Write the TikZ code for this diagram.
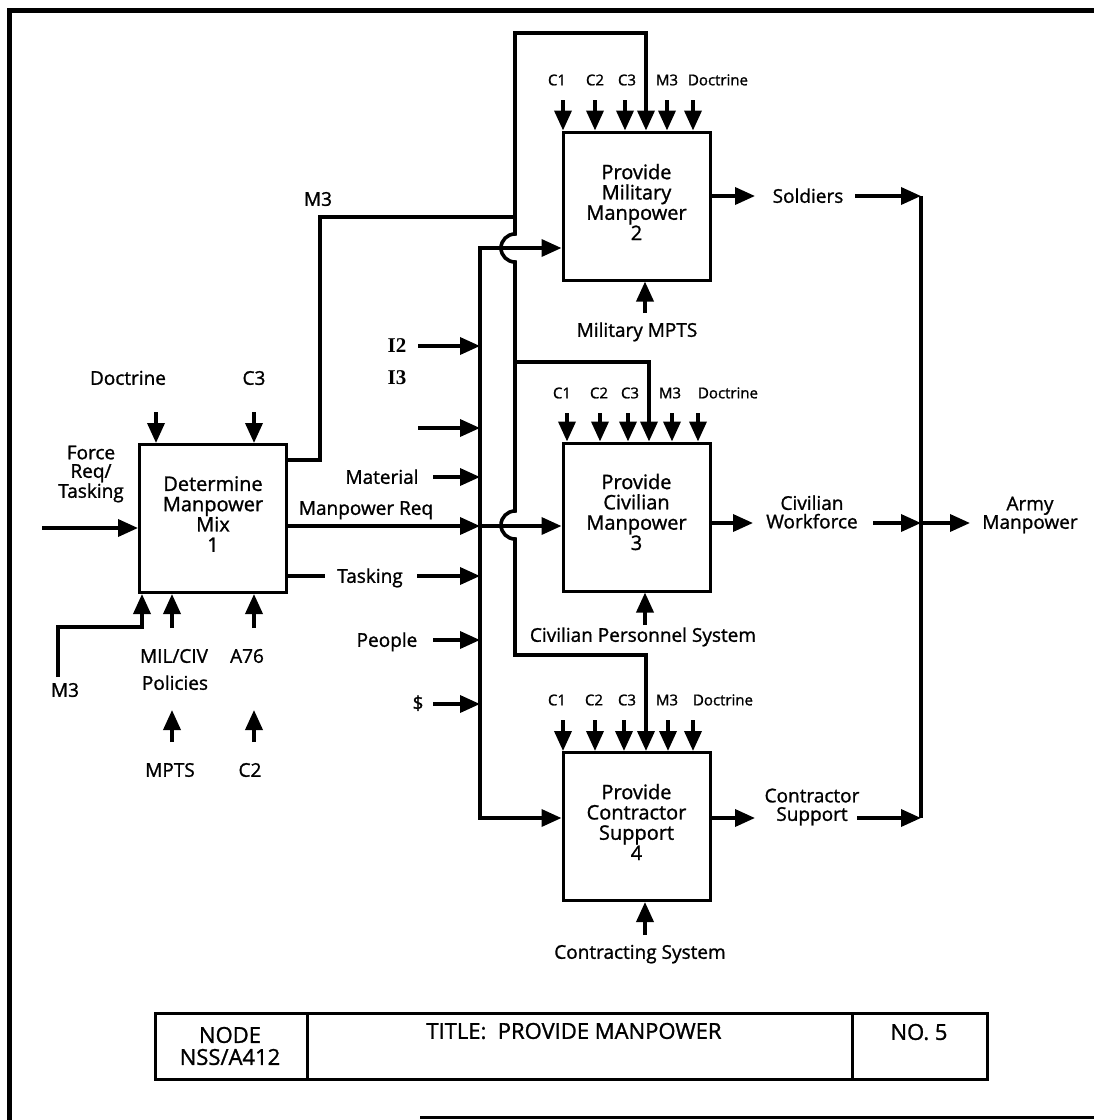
\documentclass[tikz,border=0pt]{standalone}
\usepackage{fontspec}
\setmainfont{Open Sans}[FakeBold=1.2]
\newfontfamily\serifb{Liberation Serif}
\usetikzlibrary{arrows.meta,calc}
\begin{document}
\begin{tikzpicture}[x=1pt,y=-1pt,
  box/.style={draw,line width=3pt,minimum width=147pt,minimum height=148pt,inner sep=0pt},
  btxt/.style={font=\fontsize{20}{20.3}\selectfont,align=center,inner sep=0pt},
  lbl/.style={font=\fontsize{19}{18.5}\selectfont,align=center,inner sep=0pt},
  sl/.style={text height=13.6pt,text depth=0pt},
  ctl/.style={font=\fontsize{15}{15}\selectfont,inner sep=0pt,text height=10.7pt,text depth=0pt},
  ilbl/.style={font=\serifb\bfseries\fontsize{21}{21}\selectfont,inner sep=0pt,text height=14pt,text depth=0pt},
  ttl/.style={font=\fontsize{22}{22}\selectfont,align=center,inner sep=0pt},
  wire/.style={line width=3.6pt},
  arr/.style={line width=3.6pt,-{Triangle[length=20pt,width=17pt]}},
  frame/.style={line width=5pt},
]
\useasboundingbox (0,0) rectangle (1094,1120);

% outer frame
\draw[frame] (9,1120) -- (9,10) -- (1094,10);
\draw[line width=3pt] (420,1117) -- (1094,1117);

% activity boxes
\node[box] (b1) at (213,518.5) {};
\node[btxt] (t1) at (213,514) {Determine\\Manpower\\Mix\\1};
\node[box] (b2) at (636.5,206) {};
\node[btxt] (t2) at (636.5,202) {Provide\\Military\\Manpower\\2};
\node[box] (b3) at (636.5,517) {};
\node[btxt] (t3) at (636.5,512) {Provide\\Civilian\\Manpower\\3};
\node[box] (b4) at (636.5,826.5) {};
\node[btxt] (t4) at (636.5,822) {Provide\\Contractor\\Support\\4};

% ---- box 1 inputs and controls
\coordinate (fr) at (42,528);
\draw[arr] (fr) -- (fr -| b1.west);
\node[lbl] (lfr) at (91,474) {Force\\Req/\\Tasking};
\node[lbl,sl] (ldoc1) at (128,378) {Doctrine};
\node[lbl,sl] (lc31) at (254,378) {C3};
\coordinate (d1) at (156,412);
\draw[arr] (d1) -- (d1 |- b1.north);
\coordinate (c31) at (254,412);
\draw[arr] (c31) -- (c31 |- b1.north);

% ---- box 1 mechanisms
\coordinate (m3a) at (58,677);
\coordinate (m3b) at (142,627);
\draw[arr] (m3a) |- (m3b) -- (m3b |- b1.south);
\node[lbl,sl] (lm3) at (65,690) {M3};
\coordinate (mil) at (172,628);
\draw[arr] (mil) -- (mil |- b1.south);
\node[lbl,sl] (lmil) at (174,656) {MIL/CIV};
\node[lbl,sl] (lpol) at (175,683) {Policies};
\coordinate (a76) at (254,628);
\draw[arr] (a76) -- (a76 |- b1.south);
\node[lbl,sl] (la76) at (247,656) {A76};
\coordinate (mpts) at (172,742);
\coordinate (mptsT) at (172,710);
\draw[arr] (mpts) -- (mptsT);
\node[lbl,sl] (lmpts) at (170,770) {MPTS};
\coordinate (c2b) at (254,742);
\coordinate (c2bT) at (254,710);
\draw[arr] (c2b) -- (c2bT);
\node[lbl,sl] (lc2) at (250,770) {C2};

% ---- box 1 outputs
\coordinate (m3o) at (286,460);
\coordinate (m3c) at (320,217);
\coordinate (vx) at (515,217);
\draw[wire] (b1.east |- m3o) -| (m3c) -- (vx);
\node[lbl,sl] (lm3o) at (318,199) {M3};

% M3 distribution line with bumps
\coordinate (vtop) at (515,33);
\coordinate (l2) at (646,33);
\draw[arr] (vx) -- (vtop) -- (l2) -- (l2 |- b2.north);
\coordinate (bump1) at (515,234);
\coordinate (bump2) at (515,511);
\coordinate (vbot) at (515,655);
\coordinate (l4) at (646,655);
\draw[arr] (vx) -- (bump1) arc[start angle=90,end angle=270,radius=14pt]
  -- (bump2) arc[start angle=90,end angle=270,radius=14pt]
  -- (vbot) -- (l4) -- (l4 |- b4.north);
\coordinate (br3) at (515,362);
\coordinate (l3) at (649,362);
\draw[arr] (br3) -- (l3) -- (l3 |- b3.north);

% Manpower Req
\coordinate (mrB) at (480,526);
\draw[arr] (b1.east |- mrB) -- (mrB);
\draw[arr] (mrB) -- (mrB -| b3.west);
\node[lbl,sl] (lmr) at (366,508) {Manpower Req};

% Tasking
\coordinate (tk1) at (325,576);
\draw[wire] (b1.east |- tk1) -- (tk1);
\node[lbl,sl] (ltk) at (370,576) {Tasking};
\coordinate (tk2) at (417,576);
\draw[arr] (tk2) -- (tk2 -| mrB);

% input bus
\coordinate (busT) at (480,248);
\coordinate (busB) at (480,818);
\draw[arr] (busB) -- (busT) -- (busT -| b2.west);
\draw[arr] ($(busB)+(0,-6)$) -- (busB) -- (busB -| b4.west);

\node[ilbl] (li2) at (397,345) {I2};
\coordinate (i2) at (418,346);
\draw[arr] (i2) -- (i2 -| busT);
\node[ilbl] (li3) at (397,377) {I3};
\coordinate (blk) at (418,428);
\draw[arr] (blk) -- (blk -| busT);
\node[lbl,sl] (lmat) at (382,477) {Material};
\coordinate (mat) at (433,477);
\draw[arr] (mat) -- (mat -| busT);
\node[lbl,sl] (lppl) at (387,640) {People};
\coordinate (ppl) at (433,640);
\draw[arr] (ppl) -- (ppl -| busT);
\node[lbl,sl] (ldol) at (418,703) {\$};
\coordinate (dol) at (433,704);
\draw[arr] (dol) -- (dol -| busT);

% ---- box 2
\foreach \x/\n in {563/1,595/2,625/3,667/5,693/6} {
  \coordinate (b2k\n) at (\x,100);
  \draw[arr] (b2k\n) -- (b2k\n |- b2.north);
}
\foreach \x/\t/\n in {557/C1/1,595/C2/2,627/C3/3,667/M3/4,718/Doctrine/5} {
  \node[ctl] (b2l\n) at (\x,80) {\t};
}
\coordinate (s1) at (755,196);
\draw[arr] (b2.east |- s1) -- (s1);
\node[lbl,sl] (lsol) at (808,196) {Soldiers};
\coordinate (s2) at (855,196);
\coordinate (rbT) at (921,196);
\coordinate (rbB) at (921,818);
\draw[arr] (s2) -- (rbT);
\coordinate (mm) at (645,313);
\draw[arr] (mm) -- (mm |- b2.south);
\node[lbl,sl] (lmm) at (637,330) {Military MPTS};

% ---- box 3
\foreach \x/\n in {567/1,600/2,628/3,672/5,698/6} {
  \coordinate (b3k\n) at (\x,413);
  \draw[arr] (b3k\n) -- (b3k\n |- b3.north);
}
\foreach \x/\t/\n in {562/C1/1,599/C2/2,630/C3/3,670/M3/4,728/Doctrine/5} {
  \node[ctl] (b3l\n) at (\x,393) {\t};
}
\coordinate (cw1) at (753,523);
\draw[arr] (b3.east |- cw1) -- (cw1);
\node[lbl] (lcw) at (812,512) {Civilian\\Workforce};
\coordinate (cw2) at (873,523);
\draw[arr] (cw2) -- (cw2 -| rbT);
\coordinate (cps) at (645,625);
\draw[arr] (cps) -- (cps |- b3.south);
\node[lbl,sl] (lcps) at (643,635) {Civilian Personnel System};

% ---- box 4
\foreach \x/\n in {563/1,595/2,624/3,668/5,693/6} {
  \coordinate (b4k\n) at (\x,720);
  \draw[arr] (b4k\n) -- (b4k\n |- b4.north);
}
\foreach \x/\t/\n in {557/C1/1,594/C2/2,627/C3/3,667/M3/4,723/Doctrine/5} {
  \node[ctl] (b4l\n) at (\x,700) {\t};
}
\coordinate (cs1) at (755,818);
\draw[arr] (b4.east |- cs1) -- (cs1);
\node[lbl] (lcs) at (812,807) {Contractor\\Support};
\coordinate (cs2) at (857,818);
\draw[arr] (cs2) -- (rbB);
\coordinate (csys) at (645,935);
\draw[arr] (csys) -- (csys |- b4.south);
\node[lbl,sl] (lcsys) at (640,952) {Contracting System};

% ---- output bus
\draw[wire] (rbT) -- (rbB);
\coordinate (am) at (970,523);
\draw[arr] (rbT |- am) -- (am);
\node[lbl] (lam) at (1030,515) {Army\\Manpower};

% ---- title block
\node[draw,line width=3pt,minimum width=832pt,minimum height=66pt,inner sep=0pt] (tb) at (571,1046.5) {};
\coordinate (dv1) at (307,1046);
\coordinate (dv2) at (852,1046);
\draw[line width=3pt] (dv1 |- tb.north) -- (dv1 |- tb.south);
\draw[line width=3pt] (dv2 |- tb.north) -- (dv2 |- tb.south);
\node[ttl] (tnode) at (230,1046) {NODE\\NSS/A412};
\node[ttl,text height=15.7pt,text depth=0pt] (ttitle) at (574,1031) {TITLE:\ \ PROVIDE MANPOWER};
\node[ttl,text height=15.7pt,text depth=0pt] (tno) at (919,1032) {NO. 5};
\end{tikzpicture}
\end{document}
